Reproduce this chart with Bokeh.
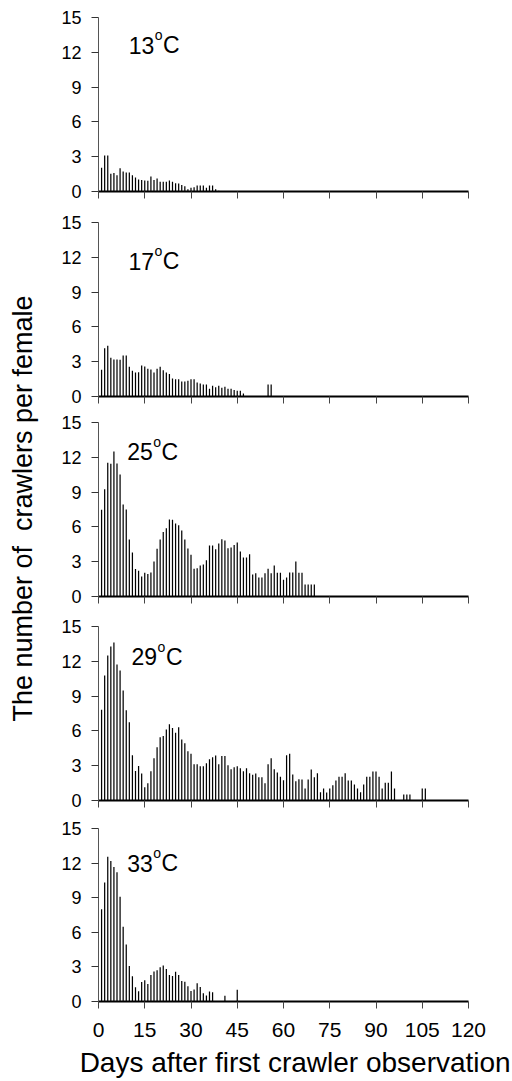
import math
from bokeh.plotting import figure
from bokeh.layouts import column, row
from bokeh.models import Label, FixedTicker, Range1d
from bokeh.embed import file_html
from bokeh.resources import INLINE

# ---------------- data ----------------
x_ticks = [0, 15, 30, 45, 60, 75, 90, 105, 120]
y_ticks = [0, 3, 6, 9, 12, 15]
temps = ["13", "17", "25", "29", "33"]

days_13 = list(range(1, 40))
vals_13 = [2.04, 3.1, 3.1, 1.52, 1.6, 1.4, 2.0, 1.72, 1.64, 1.64,
           1.4, 1.2, 1.03, 1.0, 0.95, 0.92, 1.3, 1.0, 1.12, 0.83,
           0.83, 0.83, 0.95, 0.83, 0.72, 0.69, 0.57, 0.46, 0.2, 0.32,
           0.37, 0.52, 0.52, 0.52, 0.32, 0.52, 0.52, 0.2, 0.06]

days_17 = list(range(1, 48)) + [55, 56]
vals_17 = [2.3, 4.17, 4.37, 3.33, 3.19, 3.19, 3.16, 3.53, 3.53, 2.56,
           2.21, 2.07, 2.1, 2.67, 2.59, 2.39, 2.33, 2.07, 2.39, 2.56,
           2.27, 2.07, 1.93, 1.55, 1.49, 1.49, 1.29, 1.29, 1.35, 1.49,
           1.49, 1.21, 1.12, 1.03, 1.03, 0.66, 0.92, 0.8, 0.92, 0.75,
           0.83, 0.66, 0.66, 0.57, 0.49, 0.49, 0.26,
           1.03, 1.03]

days_25 = list(range(1, 71))
vals_25 = [7.47, 9.25, 11.52, 11.44, 12.5, 11.47, 10.52, 7.93, 7.5, 4.91,
           3.79, 2.36, 2.21, 1.72, 2.04, 1.93, 2.07, 3.02, 4.11, 4.91,
           5.55, 5.89, 6.64, 6.61, 6.29, 6.15, 5.69, 4.91, 4.14, 3.59,
           2.39, 2.44, 2.67, 2.76, 3.13, 4.4, 4.4, 4.08, 4.57, 4.94,
           4.83, 4.17, 4.22, 4.43, 4.66, 3.88, 3.36, 3.36, 3.65, 1.9,
           2.01, 1.64, 1.64, 2.01, 2.39, 2.01, 2.67, 2.04, 2.04, 1.44,
           1.64, 2.07, 2.07, 3.02, 2.04, 2.04, 1.03, 1.03, 1.03, 1.03]

days_29 = list(range(1, 97)) + [99, 100, 101, 105, 106]
vals_29 = [7.83, 10.78, 12.5, 13.28, 13.62, 11.73, 11.21, 9.49, 7.77, 6.74,
           3.9, 2.55, 2.98, 2.32, 1.15, 1.49, 2.52, 3.64, 4.59, 5.45,
           5.56, 6.11, 6.57, 6.25, 5.85, 6.31, 5.25, 4.93, 4.24, 4.04,
           3.13, 3.13, 2.95, 2.95, 3.21, 3.56, 3.73, 3.87, 3.13, 3.84,
           3.84, 3.04, 2.7, 2.87, 2.95, 2.78, 2.52, 2.78, 2.35, 2.21,
           2.32, 2.01, 2.01, 1.49, 3.13, 3.64, 2.7, 2.41, 2.04, 1.75,
           3.9, 4.04, 2.24, 1.66, 1.84,
           1.81, 1.03, 1.81, 2.67, 2.01, 2.35, 0.72, 1.03, 0.69, 1.03,
           1.32, 1.72, 2.04, 2.04, 2.35, 1.72, 1.72, 1.38, 1.03, 0.72,
           1.38, 2.04, 2.04, 2.5, 2.5, 2.04, 1.03, 1.52, 1.52, 2.5, 1.03,
           0.52, 0.52, 0.52,
           1.03, 1.03]

days_33 = list(range(1, 38)) + [41, 45]
vals_33 = [7.99, 10.32, 12.56, 12.18, 11.67, 11.21, 9.08, 6.49, 4.94, 3.07,
           2.18, 1.24, 0.89, 1.70, 1.84, 1.52, 2.3, 2.61, 2.70, 2.96,
           3.13, 2.82, 2.30, 2.21, 2.59, 2.3, 1.78, 1.72, 1.32, 0.92,
           1.03, 1.58, 1.26, 0.72, 0.52, 0.86, 0.8,
           0.49, 1.01]

series = [(days_13, vals_13), (days_17, vals_17), (days_25, vals_25),
          (days_29, vals_29), (days_33, vals_33)]

x_title = "\u00a0\u00a0\u00a0Days after first crawler observation"
y_title = "The number of \u00a0crawlers per female"

# ---------------- layout ----------------
FONT = "Liberation Sans"
FRAME_H = 174
TITLE_W = 40
PX_X = 370 / 120.0
PX_Y = FRAME_H / 15.0
borders = [(17, 15), (16, 12), (14, 16), (14, 14), (14, 78)]
label_pos = [(9.8, 12.59), (9.7, 11.64), (9.3, 12.47), (10.7, 12.41), (9.3, 11.98)]
TOTAL_H = sum(t + FRAME_H + b for t, b in borders)

# narrow figure on the left holding the shared y-axis title
tf = figure(width=TITLE_W, height=TOTAL_H, x_range=Range1d(0, TITLE_W),
            y_range=Range1d(TOTAL_H, 0), output_backend="svg",
            toolbar_location=None, min_border=0)
tf.axis.visible = False
tf.grid.visible = False
tf.outline_line_color = None
tf.add_layout(Label(x=22, y=508, text=y_title, angle=math.pi / 2,
                    text_font=FONT, text_font_size="27px", text_color="black",
                    text_align="center", text_baseline="middle"))

figs = []
for i, ((days, vals), temp, (t, b), (lx, ly)) in enumerate(zip(series, temps, borders, label_pos)):
    last = (i == len(series) - 1)
    p = figure(width=510 - TITLE_W, height=t + FRAME_H + b,
               x_range=Range1d(0, 120), y_range=Range1d(0, 15),
               output_backend="svg", toolbar_location=None,
               min_border_left=98 - TITLE_W, min_border_right=42,
               min_border_top=t, min_border_bottom=b)
    p.outline_line_color = None
    p.grid.visible = False
    p.background_fill_color = "white"
    p.border_fill_color = "white"

    p.vbar(x=days, top=vals, width=0.4, bottom=0,
           fill_color="black", line_color=None)

    xa = p.xaxis[0]
    xa.ticker = FixedTicker(ticks=x_ticks)
    xa.axis_line_color = "black"
    xa.axis_line_width = 2
    xa.major_tick_line_color = "#444444"
    xa.major_tick_in = 0
    xa.major_tick_out = 7
    xa.minor_tick_line_color = None
    if last:
        xa.major_label_text_font = FONT
        xa.major_label_text_font_size = "21px"
        xa.major_label_text_color = "black"
        xa.major_label_standoff = 14
        xa.axis_label = x_title
        xa.axis_label_text_font = FONT
        xa.axis_label_text_font_size = "28px"
        xa.axis_label_text_font_style = "normal"
        xa.axis_label_text_color = "black"
        xa.axis_label_standoff = 7
    else:
        xa.major_label_text_font_size = "1px"
        xa.major_label_text_color = None
        xa.major_label_standoff = 0

    ya = p.yaxis[0]
    ya.ticker = FixedTicker(ticks=y_ticks)
    ya.axis_line_color = "#555555"
    ya.axis_line_width = 1
    ya.major_tick_line_color = "#333333"
    ya.major_tick_in = 0
    ya.major_tick_out = 7
    ya.minor_tick_line_color = None
    ya.major_label_text_font = FONT
    ya.major_label_text_font_size = "18px"
    ya.major_label_text_color = "black"
    ya.major_label_standoff = 10

    # temperature label: "13" + superscript "o" + "C"
    p.add_layout(Label(x=lx, y=ly, text=temp, text_font=FONT,
                       text_font_size="23px", text_color="black",
                       text_align="left", text_baseline="alphabetic"))
    p.add_layout(Label(x=lx + 26 / PX_X, y=ly + 10 / PX_Y, text="o", text_font=FONT,
                       text_font_size="14px", text_color="black",
                       text_align="left", text_baseline="alphabetic"))
    p.add_layout(Label(x=lx + 34.4 / PX_X, y=ly, text="C", text_font=FONT,
                       text_font_size="23px", text_color="black",
                       text_align="left", text_baseline="alphabetic"))
    figs.append(p)

layout = row(tf, column(*figs, spacing=0), spacing=0)
open("out.html", "w").write(file_html(layout, INLINE))
